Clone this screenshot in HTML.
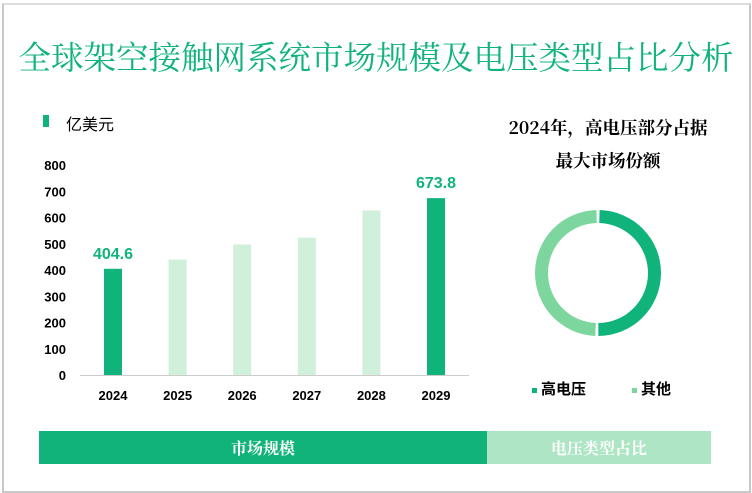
<!DOCTYPE html>
<html><head><meta charset="utf-8"><style>
body{margin:0;width:752px;height:492px;background:#fff;font-family:"Liberation Sans","Noto Sans CJK SC",sans-serif;position:relative;overflow:hidden}
.abs{position:absolute}
</style></head><body>
<div class="abs" style="left:2px;top:3px;width:745px;height:486px;border:2px solid #c8c8c8;border-top-color:#ddd"></div>
<div class="abs" style="left:0;width:752px;top:33px;text-align:center;font-family:'Noto Serif CJK SC',serif;font-size:32.5px;color:#10b47a;white-space:nowrap">全球架空接触网系统市场规模及电压类型占比分析</div>
<div class="abs" style="left:43px;top:115px;width:6px;height:12px;background:#10b47a"></div>
<div class="abs" style="left:66px;top:111px;font-size:16px;color:#000">亿美元</div>
<div class="abs" style="left:488px;top:111px;width:240px;text-align:center;font-family:'Noto Serif CJK SC',serif;font-size:17.5px;font-weight:bold;line-height:33px;color:#000;white-space:nowrap">2024年，高电压部分占据<br>最大市场份额</div>
<svg class="abs" style="left:0;top:0" width="752" height="492" id="svg"></svg>
<div class="abs" style="left:532px;top:378px;font-size:15px;font-weight:bold"><span style="display:inline-block;width:5px;height:5px;background:#10b47a;vertical-align:middle;margin-right:4px"></span>高电压</div>
<div class="abs" style="left:632px;top:378px;font-size:15px;font-weight:bold"><span style="display:inline-block;width:5px;height:5px;background:#7dd69e;vertical-align:middle;margin-right:4px"></span>其他</div>
<div class="abs" style="left:39px;top:431px;width:448px;height:33px;background:#10b47a;color:#fff;text-align:center;line-height:33px;font-family:'Noto Serif CJK SC',serif;font-size:16px;font-weight:bold">市场规模</div>
<div class="abs" style="left:487px;top:431px;width:224px;height:33px;background:#aee5c4;color:#fff;text-align:center;line-height:33px;font-family:'Noto Serif CJK SC',serif;font-size:16px;font-weight:bold">电压类型占比</div>
<script>
const years=["2024","2025","2026","2027","2028","2029"];
const values=[404.6,440,497,523,627,673.8];
const labels=["404.6","","","","","673.8"];
const yTicks=[0,100,200,300,400,500,600,700,800];
const shareNames=["高电压","其他"];
const shares=[50.3,49.7];
const NS="http://www.w3.org/2000/svg";
const svg=document.getElementById('svg');
function y(v){return 375-v*210/800;}
function x(i){return 113+i*64.6;}
function mk(t,a){const e=document.createElementNS(NS,t);for(const k in a)e.setAttribute(k,a[k]);svg.appendChild(e);return e;}
yTicks.forEach(t=>{const e=mk('text',{x:66,y:y(t)+5,'text-anchor':'end','font-size':13,'font-weight':'bold',fill:'#000'});e.textContent=t;

});
const ax=mk('line',{x1:80,x2:469,y1:375.5,y2:375.5,stroke:'#ccc'});


years.forEach((yr,i)=>{
const hi=(i==0||i==years.length-1);
const r=mk('rect',{x:x(i)-9,y:y(values[i]),width:18,height:375-y(values[i]),fill:hi?'#10b47a':'#d0f0dc'});


const t=mk('text',{x:x(i),y:400,'text-anchor':'middle','font-size':13,'font-weight':'bold'});t.textContent=yr;


if(labels[i]){const l=mk('text',{x:x(i),y:y(values[i])-10,'text-anchor':'middle','font-size':16,'font-weight':'bold',fill:'#10b47a'});l.textContent=labels[i];

}
});
const cx=598,cy=273,R=63,ri=50,cols=['#10b47a','#7dd69e'];
let a0=0;const tot=shares.reduce((a,b)=>a+b,0);
shares.forEach((s,i)=>{
const a1=a0+s/tot*2*Math.PI;const g=0.025;
const p=(a,r)=>[cx+r*Math.sin(a),cy-r*Math.cos(a)];
const s0=a0+g,s1=a1-g;const large=(s1-s0)>Math.PI?1:0;
const [x1,y1]=p(s0,R),[x2,y2]=p(s1,R),[x3,y3]=p(s1,ri),[x4,y4]=p(s0,ri);
const e=mk('path',{d:`M${x1},${y1}A${R},${R} 0 ${large} 1 ${x2},${y2}L${x3},${y3}A${ri},${ri} 0 ${large} 0 ${x4},${y4}Z`,fill:cols[i]});


a0=a1;});
</script>
</body></html>
